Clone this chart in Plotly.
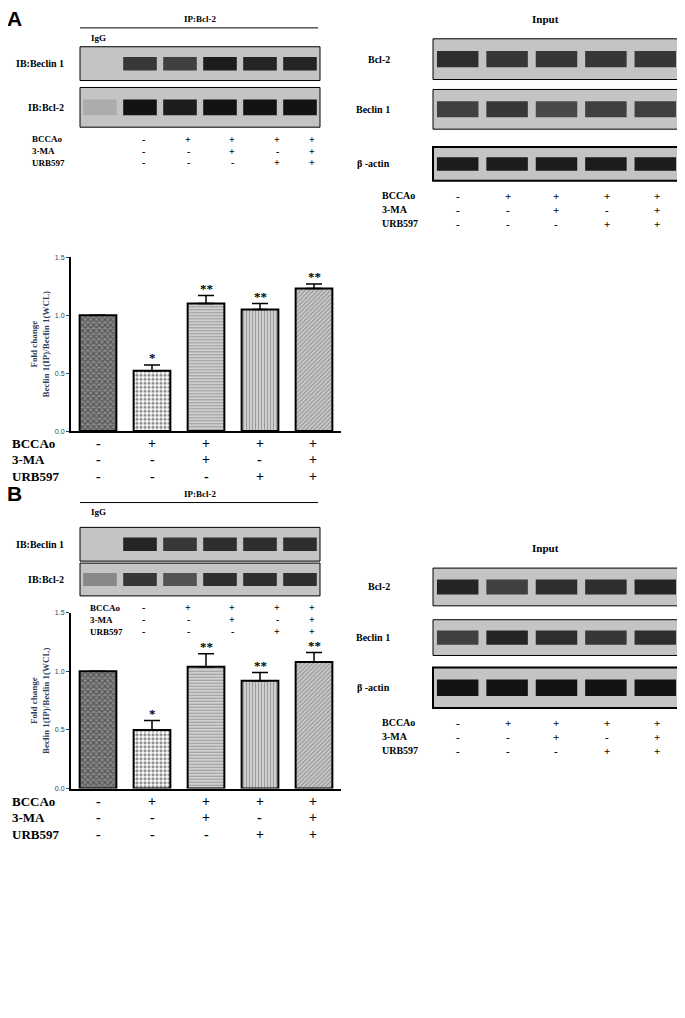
import plotly.graph_objects as go

W, H = 685, 1018
OFF = 8  # default page margin of the html body
FW, FH = W - 2 * OFF, H - 2 * OFF
groups = ["Ctrl", "BCCAo", "BCCAo+3-MA", "BCCAo+URB597", "BCCAo+3-MA+URB597"]
bccao = ["-", "+", "+", "+", "+"]
ma = ["-", "-", "+", "-", "+"]
urb = ["-", "-", "-", "+", "+"]

fold_a = [1.0, 0.52, 1.10, 1.05, 1.23]
err_a = [0, 0.05, 0.07, 0.05, 0.04]
fold_b = [1.0, 0.50, 1.04, 0.92, 1.08]
err_b = [0, 0.08, 0.11, 0.07, 0.08]
stars = ["", "*", "**", "**", "**"]

# band darkness per lane (0 = none, 1 = black)
a_ip_beclin = [0, 0.75, 0.7, 0.9, 0.85, 0.85]
a_ip_bcl2 = [0.1, 0.95, 0.9, 0.95, 0.95, 0.95]
a_in_bcl2 = [0.8, 0.75, 0.75, 0.75, 0.75]
a_in_beclin = [0.7, 0.75, 0.65, 0.7, 0.7]
a_in_actin = [0.9, 0.9, 0.9, 0.9, 0.9]
b_ip_beclin = [0, 0.85, 0.75, 0.8, 0.8, 0.8]
b_ip_bcl2 = [0.3, 0.75, 0.6, 0.8, 0.8, 0.8]
b_in_bcl2 = [0.85, 0.7, 0.8, 0.8, 0.85]
b_in_beclin = [0.7, 0.85, 0.8, 0.75, 0.8]
b_in_actin = [0.95, 0.95, 0.95, 0.95, 0.95]

SERIF = "Liberation Serif"
fig = go.Figure()
shapes, ann = [], []

def px(x): return (x - OFF) / FW
def py(y): return 1 - (y - OFF) / FH

def text(x, y, s, size=10, anchor="center", family=SERIF):
    ann.append(dict(x=px(x), y=py(y), xref="paper", yref="paper", text=s, showarrow=False,
                    xanchor=anchor, yanchor="middle", font=dict(family=family, size=size, color="black")))

def blot(x0, x1, y0, y1, vals, label, lx, border=1):
    shapes.append(dict(type="rect", xref="paper", yref="paper", x0=px(x0), x1=px(x1), y0=py(y1), y1=py(y0),
                       fillcolor="#c4c4c4", line=dict(color="black", width=border)))
    n = len(vals)
    lw = (x1 - x0) / n
    for i, v in enumerate(vals):
        if v <= 0:
            continue
        g = int(190 - 180 * v)
        cx = x0 + lw * (i + 0.5)
        cy = (y0 + y1) / 2
        shapes.append(dict(type="rect", xref="paper", yref="paper", x0=px(cx - lw * 0.42), x1=px(cx + lw * 0.42),
                           y0=py(cy + (y1 - y0) * 0.2), y1=py(cy - (y1 - y0) * 0.2),
                           fillcolor=f"rgb({g},{g},{g})", line=dict(width=0)))
    text(lx, (y0 + y1) / 2, f"<b>{label}</b>", 10, "right" if lx < x0 else "left")

def lane_rows(cols, ys, lx, size=9):
    for lab, vals, y in zip(["BCCAo", "3-MA", "URB597"], [bccao, ma, urb], ys):
        text(lx, y, f"<b>{lab}</b>", size, "left")
        for c, v in zip(cols, vals):
            text(c, y, f"<b>{v}</b>", size + 1)

def panel(top, letter, ipb, ipc, inb, inc, ina, fold, err, axn, b, rowx):
    text(5, top + 3, f"<b>{letter}</b>", 21, "left", "Liberation Sans")
    text(200, top + 3, "<b>IP:Bcl-2</b>", 9)
    shapes.append(dict(type="line", xref="paper", yref="paper", x0=px(80), x1=px(318), y0=py(top + 12), y1=py(top + 12),
                       line=dict(color="black", width=1)))
    text(98, top + 22, "<b>IgG</b>", 9)
    blot(80, 320, b[0], b[1], ipb, "IB:Beclin 1", 66)
    blot(80, 320, b[2], b[3], ipc, "IB:Bcl-2", 66)
    lane_rows([143, 188, 232, 277, 312], [b[3] + 12, b[3] + 24, b[3] + 36], rowx, 9)
    text(545, b[4] - 20, "<b>Input</b>", 11)
    blot(433, 680, b[4], b[5], inb, "Bcl-2", 392)
    blot(433, 680, b[6], b[7], inc, "Beclin 1", 392)
    blot(433, 680, b[8], b[9], ina, "β -actin", 392, 2)
    lane_rows([458, 508, 556, 607, 657], [b[9] + 15, b[9] + 29, b[9] + 43], 380, 10)
    # bar chart
    ys, ye = b[10], b[11]
    xa = f"x{axn}"; ya = f"y{axn}"
    fig.add_trace(go.Bar(
        x=list(range(5)), y=fold, xaxis=xa, yaxis=ya, width=0.68,
        error_y=dict(type="data", array=err, symmetric=False, arrayminus=[0]*5, color="black", thickness=1.5, width=8),
        marker=dict(color="white", line=dict(color="black", width=2),
                    pattern=dict(shape=["x", ".", "-", "|", "/"],
                                 fgcolor=["#222222", "#111111", "#555555", "#555555", "#666666"],
                                 bgcolor=["#8a8a8a", "#ffffff", "#e0e0e0", "#e0e0e0", "#d0d0d0"],
                                 size=[4, 4, 3, 3, 3], solidity=0.5)),
        showlegend=False))
    for i, (f, e, s) in enumerate(zip(fold, err, stars)):
        if s:
            ann.append(dict(x=i, y=f + e, xref=xa, yref=ya, text=f"<b>{s}</b>", showarrow=False,
                            yanchor="bottom", yshift=-2, font=dict(family=SERIF, size=13, color="black")))
    sfx = "" if axn == 1 else str(axn)
    fig.layout["xaxis" + sfx] = dict(domain=[px(71), px(341)], range=[-0.5, 4.5], anchor=ya,
                                     showticklabels=False, ticks="", showline=True, linecolor="black", linewidth=2,
                                     showgrid=False, zeroline=False)
    fig.layout["yaxis" + sfx] = dict(domain=[py(ye), py(ys)], range=[0, 1.5], anchor=xa,
                                     tickvals=[0, 0.5, 1.0, 1.5], ticktext=["0.0", "0.5", "1.0", "1.5"],
                                     ticks="outside", ticklen=3, tickfont=dict(family="Liberation Sans", size=7),
                                     showline=True, linecolor="black", linewidth=2, showgrid=False, zeroline=False,
                                     title=dict(text="<b>Fold change<br>Beclin 1(IP)/Beclin 1(WCL)</b>",
                                                font=dict(family=SERIF, size=9), standoff=4))
    lane_rows([98, 152, 206, 260, 313], [ye + 13, ye + 29, ye + 46], 10, 13)

panel(12, "A", a_ip_beclin, a_ip_bcl2, a_in_bcl2, a_in_beclin, a_in_actin, fold_a, err_a, 1,
      [43, 77, 84, 124, 35, 76, 86, 126, 144, 178, 255, 430], 30)
panel(490, "B", b_ip_beclin, b_ip_bcl2, b_in_bcl2, b_in_beclin, b_in_actin, fold_b, err_b, 2,
      [527, 561, 563, 596, 568, 606, 620, 656, 668, 709, 613, 790], 88)

fig.update_layout(width=FW, height=FH, margin=dict(l=0, r=0, t=0, b=0), paper_bgcolor="white",
                  plot_bgcolor="white", shapes=shapes, annotations=ann, bargap=0.3)
fig.write_html("out.html")
